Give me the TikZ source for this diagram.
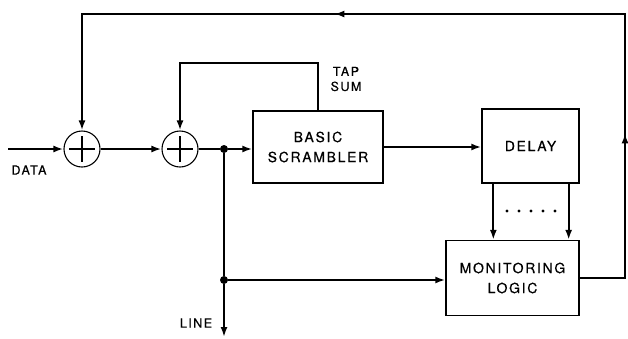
\documentclass[tikz,border=0pt]{standalone}
\usepackage{fontspec}
\setmainfont{TeX Gyre Heros}
\newfontfamily\lettering[LetterSpace=12, FakeBold=0.4]{TeX Gyre Heros}
\usetikzlibrary{arrows.meta, positioning, calc, decorations.markings}

\begin{document}
\begin{tikzpicture}[
  x=1pt, y=-1pt,
  block/.style={rectangle, draw, line width=1.3pt, align=center,
                font=\lettering\fontsize{14}{20}\selectfont},
  adder/.style={circle, draw, line width=1.1pt, minimum size=36pt, inner sep=0pt,
                path picture={
                  \draw[line width=1.2pt] ([yshift=-5pt]path picture bounding box.north)
                    -- ([yshift=5pt]path picture bounding box.south);
                  \draw[line width=1.2pt] ([xshift=5pt]path picture bounding box.west)
                    -- ([xshift=-5pt]path picture bounding box.east);}},
  dot/.style={circle, fill, inner sep=0pt, minimum size=8pt},
  lbl/.style={font=\lettering\fontsize{12.5}{15}\selectfont, align=center},
  sig/.style={line width=2.2pt},
  arrow/.style={sig, -{Latex[length=10pt, width=7pt]}},
  fbarrows/.style={sig, postaction={decorate}, decoration={markings,
                   mark=at position 190pt with {\arrow{Latex[length=10pt, width=7pt]}},
                   mark=at position 600pt with {\arrow{Latex[length=10pt, width=7pt]}}}},
]
  \useasboundingbox (0,0) rectangle (628,338);

  % blocks
  \node[adder] (add1) at (82,149) {};
  \node[adder] (add2) at (180,149) {};
  \node[block, minimum width=130pt, minimum height=72pt] (scr) at (318,147) {BASIC\\SCRAMBLER};
  \node[block, minimum width=97pt, minimum height=74pt] (dly) at (530.5,146) {DELAY};
  \node[block, minimum width=133pt, minimum height=75pt] (mon) at (512.5,278) {MONITORING\\LOGIC};

  % junctions and free ends
  \node[dot] (j1) at (224,149) {};
  \node[dot] (j2) at (224,280) {};
  \coordinate (datain) at (8,149);
  \coordinate (lineout) at (224,337);
  \coordinate (tap) at (318,63);
  \coordinate (fbtop) at (625,14);

  % labels
  \node[lbl] (datalbl) at (29,170) {DATA};
  \node[lbl, inner sep=0pt] (taplbl) at (346,79) {TAP\\SUM};
  \node[lbl] (linelbl) at (196,323) {LINE};

  % main path
  \draw[arrow] (datain) -- (add1.west);
  \draw[arrow] (add1.east) -- (add2.west);
  \draw[sig] (add2.east) -- (j1);
  \draw[arrow] (j1) -- (j1 -| scr.west);
  \draw[arrow] (scr.east) -- (scr.east -| dly.west);
  \draw[sig] (j1) -- (j2);
  \draw[arrow] (j2) -- (lineout);
  \draw[arrow] (j2) -- (j2 -| mon.west);

  % tap sum feedback
  \draw[arrow] (scr.north) -- (tap) -| (add2.north);

  % delay taps
  \draw[arrow] ([xshift=12pt]dly.south west) -- ([xshift=12pt]dly.south west |- mon.north);
  \draw[arrow] ([xshift=-11pt]dly.south east) -- ([xshift=-11pt]dly.south east |- mon.north);
  \foreach \i in {0,...,4}
    \fill (507+12*\i,211) circle (1.6pt);

  % monitoring feedback
  \draw[fbarrows, -{Latex[length=10pt, width=7pt]}] (mon.east) -| (fbtop) -| (add1.north);
\end{tikzpicture}
\end{document}
